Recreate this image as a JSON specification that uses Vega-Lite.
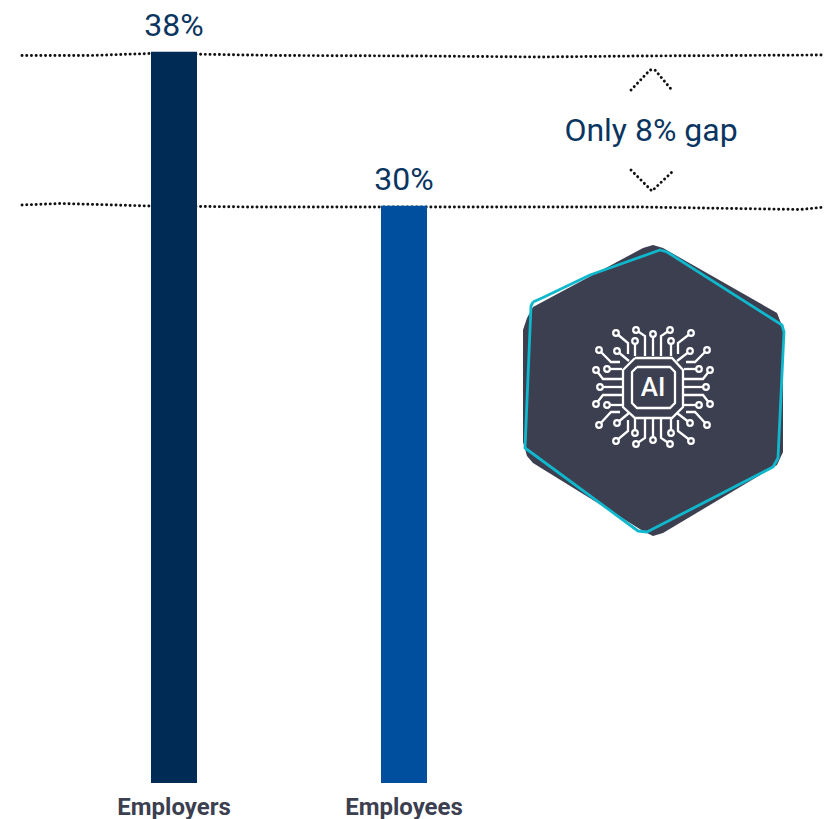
{"$schema":"https://vega.github.io/schema/vega-lite/v6.json","width":825,"height":783,"padding":{"left":0,"top":0,"right":0,"bottom":36},"autosize":{"type":"none"},"background":"white","config":{"view":{"stroke":null},"text":{"font":"Roboto"}},"datasets":{
"bars":[{"group":"Employers","share":38,"label":"38%"},{"group":"Employees","share":30,"label":"30%"}],
"dots":[{"g":"a","i":0,"u":22,"v":55.5},{"g":"a","i":1,"u":90,"v":55.5},{"g":"a","i":2,"u":150,"v":53.5},{"g":"a","i":3,"u":280,"v":55.5},{"g":"a","i":4,"u":420,"v":56},{"g":"a","i":5,"u":540,"v":57},{"g":"a","i":6,"u":640,"v":56},{"g":"a","i":7,"u":825,"v":55},
{"g":"b","i":0,"u":22,"v":205},{"g":"b","i":1,"u":60,"v":203.5},{"g":"b","i":2,"u":150,"v":206},{"g":"b","i":3,"u":255,"v":207},{"g":"b","i":4,"u":380,"v":207},{"g":"b","i":5,"u":540,"v":207},{"g":"b","i":6,"u":640,"v":207},{"g":"b","i":7,"u":700,"v":208},{"g":"b","i":8,"u":800,"v":209.5},{"g":"b","i":9,"u":825,"v":207},
{"g":"c","i":0,"u":631,"v":90},{"g":"c","i":1,"u":650,"v":70},{"g":"c","i":2,"u":655,"v":70},{"g":"c","i":3,"u":671,"v":89},
{"g":"d","i":0,"u":631,"v":170},{"g":"d","i":1,"u":652,"v":191},{"g":"d","i":2,"u":672,"v":172}],
"note":[{"label":"Only 8% gap","u":651,"v":131}],
"hex":[{"u":523,"v":330,"v2":442},{"u":527,"v":318,"v2":456},{"u":533,"v":307,"v2":463},{"u":643,"v":248,"v2":531},{"u":653,"v":245,"v2":536},{"u":663,"v":248,"v2":533},{"u":777,"v":313,"v2":465},{"u":783,"v":328,"v2":452}],
"rim":[{"i":0,"u":533,"v":302},{"i":1,"u":542,"v":298},{"i":2,"u":590,"v":275},{"i":3,"u":660,"v":250},{"i":4,"u":667,"v":252},{"i":5,"u":782,"v":325},{"i":6,"u":784,"v":332},{"i":7,"u":778,"v":458},{"i":8,"u":773,"v":467},{"i":9,"u":647,"v":532},{"i":10,"u":638,"v":531},{"i":11,"u":525,"v":448},{"i":12,"u":531,"v":306},{"i":13,"u":533,"v":302}],
"chip":[{"g":"o","i":0,"u":635,"v":358},{"g":"o","i":1,"u":672,"v":358},{"g":"o","i":2,"u":683,"v":370},{"g":"o","i":3,"u":683,"v":407},{"g":"o","i":4,"u":672,"v":418},{"g":"o","i":5,"u":635,"v":418},{"g":"o","i":6,"u":623,"v":407},{"g":"o","i":7,"u":623,"v":370},{"g":"o","i":8,"u":635,"v":358},
{"g":"n","i":0,"u":637,"v":367},{"g":"n","i":1,"u":670,"v":367},{"g":"n","i":2,"u":675,"v":372},{"g":"n","i":3,"u":675,"v":403},{"g":"n","i":4,"u":670,"v":408},{"g":"n","i":5,"u":637,"v":408},{"g":"n","i":6,"u":632,"v":403},{"g":"n","i":7,"u":632,"v":372},{"g":"n","i":8,"u":637,"v":367}],
"chipLabel":[{"label":"AI","u":653,"v":388}],
"traces":[
{"g":"t1","i":0,"u":616,"v":333},{"g":"t1","i":1,"u":628,"v":343},{"g":"t1","i":2,"u":628,"v":354},
{"g":"t2","i":0,"u":636,"v":330},{"g":"t2","i":1,"u":645,"v":336},{"g":"t2","i":2,"u":645,"v":356},
{"g":"t3","i":0,"u":653,"v":334},{"g":"t3","i":1,"u":653,"v":356},
{"g":"t4","i":0,"u":670,"v":330},{"g":"t4","i":1,"u":661,"v":336},{"g":"t4","i":2,"u":661,"v":356},
{"g":"t5","i":0,"u":691,"v":333},{"g":"t5","i":1,"u":678,"v":343},{"g":"t5","i":2,"u":678,"v":354},
{"g":"t6","i":0,"u":635,"v":341},{"g":"t6","i":1,"u":635,"v":356},
{"g":"t7","i":0,"u":671,"v":341},{"g":"t7","i":1,"u":671,"v":356},
{"g":"t8","i":0,"u":617,"v":351},{"g":"t8","i":1,"u":629,"v":361},
{"g":"t9","i":0,"u":690,"v":351},{"g":"t9","i":1,"u":677,"v":361},
{"g":"b1","i":0,"u":616,"v":441},{"g":"b1","i":1,"u":628,"v":431},{"g":"b1","i":2,"u":628,"v":420},
{"g":"b2","i":0,"u":636,"v":444},{"g":"b2","i":1,"u":645,"v":438},{"g":"b2","i":2,"u":645,"v":418},
{"g":"b3","i":0,"u":653,"v":440},{"g":"b3","i":1,"u":653,"v":418},
{"g":"b4","i":0,"u":670,"v":444},{"g":"b4","i":1,"u":661,"v":438},{"g":"b4","i":2,"u":661,"v":418},
{"g":"b5","i":0,"u":691,"v":441},{"g":"b5","i":1,"u":678,"v":431},{"g":"b5","i":2,"u":678,"v":420},
{"g":"b6","i":0,"u":635,"v":433},{"g":"b6","i":1,"u":635,"v":418},
{"g":"b7","i":0,"u":671,"v":433},{"g":"b7","i":1,"u":671,"v":418},
{"g":"b8","i":0,"u":617,"v":423},{"g":"b8","i":1,"u":629,"v":413},
{"g":"b9","i":0,"u":690,"v":423},{"g":"b9","i":1,"u":677,"v":413},
{"g":"l1","i":0,"u":599,"v":350},{"g":"l1","i":1,"u":611,"v":362},{"g":"l1","i":2,"u":620,"v":362},
{"g":"l2","i":0,"u":596,"v":370},{"g":"l2","i":1,"u":603,"v":379},{"g":"l2","i":2,"u":622,"v":379},
{"g":"l3","i":0,"u":607,"v":369},{"g":"l3","i":1,"u":622,"v":369},
{"g":"l4","i":0,"u":600,"v":387},{"g":"l4","i":1,"u":622,"v":387},
{"g":"l5","i":0,"u":596,"v":404},{"g":"l5","i":1,"u":603,"v":395},{"g":"l5","i":2,"u":622,"v":395},
{"g":"l6","i":0,"u":607,"v":405},{"g":"l6","i":1,"u":622,"v":405},
{"g":"l7","i":0,"u":599,"v":425},{"g":"l7","i":1,"u":611,"v":412},{"g":"l7","i":2,"u":620,"v":412},
{"g":"r1","i":0,"u":707,"v":350},{"g":"r1","i":1,"u":695,"v":362},{"g":"r1","i":2,"u":686,"v":362},
{"g":"r2","i":0,"u":710,"v":370},{"g":"r2","i":1,"u":703,"v":379},{"g":"r2","i":2,"u":684,"v":379},
{"g":"r3","i":0,"u":699,"v":369},{"g":"r3","i":1,"u":684,"v":369},
{"g":"r4","i":0,"u":706,"v":387},{"g":"r4","i":1,"u":684,"v":387},
{"g":"r5","i":0,"u":710,"v":404},{"g":"r5","i":1,"u":703,"v":395},{"g":"r5","i":2,"u":684,"v":395},
{"g":"r6","i":0,"u":699,"v":405},{"g":"r6","i":1,"u":684,"v":405},
{"g":"r7","i":0,"u":707,"v":425},{"g":"r7","i":1,"u":695,"v":412},{"g":"r7","i":2,"u":686,"v":412}
]},
"resolve":{"scale":{"x":"independent","y":"independent"},"axis":{"x":"independent","y":"independent"}},
"layer":[
{"data":{"name":"dots"},"mark":{"type":"line","stroke":"#111111","strokeWidth":2.9,"strokeDash":[0.1,4.6],"strokeCap":"round"},"encoding":{"x":{"field":"u","type":"quantitative","axis":null,"scale":{"domain":[0,825],"nice":false,"zero":false}},"y":{"field":"v","type":"quantitative","axis":null,"scale":{"domain":[783,0],"nice":false,"zero":false}},"detail":{"field":"g"},"order":{"field":"i"}}},
{"data":{"name":"bars"},"mark":{"type":"bar"},"encoding":{"x":{"field":"group","type":"nominal","sort":null,"title":null,"scale":{"type":"band","domain":["Employers","Employees"],"range":[151,427],"paddingInner":0.8,"paddingOuter":0},"axis":{"domain":false,"ticks":false,"labelAngle":0,"labelFont":"Roboto","labelFontWeight":"bold","labelFontSize":24,"labelColor":"#3c3f50","labelPadding":24,"labelBaseline":"middle"}},"y":{"field":"share","type":"quantitative","axis":null,"scale":{"domain":[0,40.696],"nice":false,"zero":true}},"color":{"field":"group","type":"nominal","legend":null,"scale":{"domain":["Employers","Employees"],"range":["#002b54","#004f9f"]}}}},
{"data":{"name":"bars"},"mark":{"type":"text","fontSize":32,"color":"#0b3561","baseline":"middle","dy":-26},"encoding":{"x":{"field":"group","type":"nominal","sort":null,"axis":null,"scale":{"type":"band","domain":["Employers","Employees"],"range":[151,427],"paddingInner":0.8,"paddingOuter":0}},"y":{"field":"share","type":"quantitative","axis":null,"scale":{"domain":[0,40.696],"nice":false,"zero":true}},"text":{"field":"label"}}},
{"data":{"name":"note"},"mark":{"type":"text","fontSize":32,"color":"#0b3561","baseline":"middle"},"encoding":{"x":{"field":"u","type":"quantitative","axis":null,"scale":{"domain":[0,825],"nice":false,"zero":false}},"y":{"field":"v","type":"quantitative","axis":null,"scale":{"domain":[783,0],"nice":false,"zero":false}},"text":{"field":"label"}}},
{"data":{"name":"hex"},"mark":{"type":"area","color":"#3c3f50"},"encoding":{"x":{"field":"u","type":"quantitative","axis":null,"scale":{"domain":[0,825],"nice":false,"zero":false}},"y":{"field":"v","type":"quantitative","axis":null,"scale":{"domain":[783,0],"nice":false,"zero":false}},"y2":{"field":"v2"}}},
{"data":{"name":"rim"},"mark":{"type":"line","stroke":"#0fb8cc","strokeWidth":2.8,"strokeJoin":"round"},"encoding":{"x":{"field":"u","type":"quantitative","axis":null,"scale":{"domain":[0,825],"nice":false,"zero":false}},"y":{"field":"v","type":"quantitative","axis":null,"scale":{"domain":[783,0],"nice":false,"zero":false}},"order":{"field":"i"}}},
{"data":{"name":"chip"},"mark":{"type":"line","stroke":"#ffffff","strokeWidth":2.3},"encoding":{"x":{"field":"u","type":"quantitative","axis":null,"scale":{"domain":[0,825],"nice":false,"zero":false}},"y":{"field":"v","type":"quantitative","axis":null,"scale":{"domain":[783,0],"nice":false,"zero":false}},"detail":{"field":"g"},"order":{"field":"i"}}},
{"data":{"name":"traces"},"mark":{"type":"line","stroke":"#ffffff","strokeWidth":2.3},"encoding":{"x":{"field":"u","type":"quantitative","axis":null,"scale":{"domain":[0,825],"nice":false,"zero":false}},"y":{"field":"v","type":"quantitative","axis":null,"scale":{"domain":[783,0],"nice":false,"zero":false}},"detail":{"field":"g"},"order":{"field":"i"}}},
{"data":{"name":"traces"},"transform":[{"filter":"datum.i == 0"}],"mark":{"type":"point","filled":true,"fill":"#3c3f50","stroke":"#ffffff","strokeWidth":2.2,"size":32,"opacity":1},"encoding":{"x":{"field":"u","type":"quantitative","axis":null,"scale":{"domain":[0,825],"nice":false,"zero":false}},"y":{"field":"v","type":"quantitative","axis":null,"scale":{"domain":[783,0],"nice":false,"zero":false}}}},
{"data":{"name":"chipLabel"},"mark":{"type":"text","font":"Roboto","fontSize":26,"fontWeight":500,"color":"#ffffff","baseline":"middle"},"encoding":{"x":{"field":"u","type":"quantitative","axis":null,"scale":{"domain":[0,825],"nice":false,"zero":false}},"y":{"field":"v","type":"quantitative","axis":null,"scale":{"domain":[783,0],"nice":false,"zero":false}},"text":{"field":"label"}}}
]}
